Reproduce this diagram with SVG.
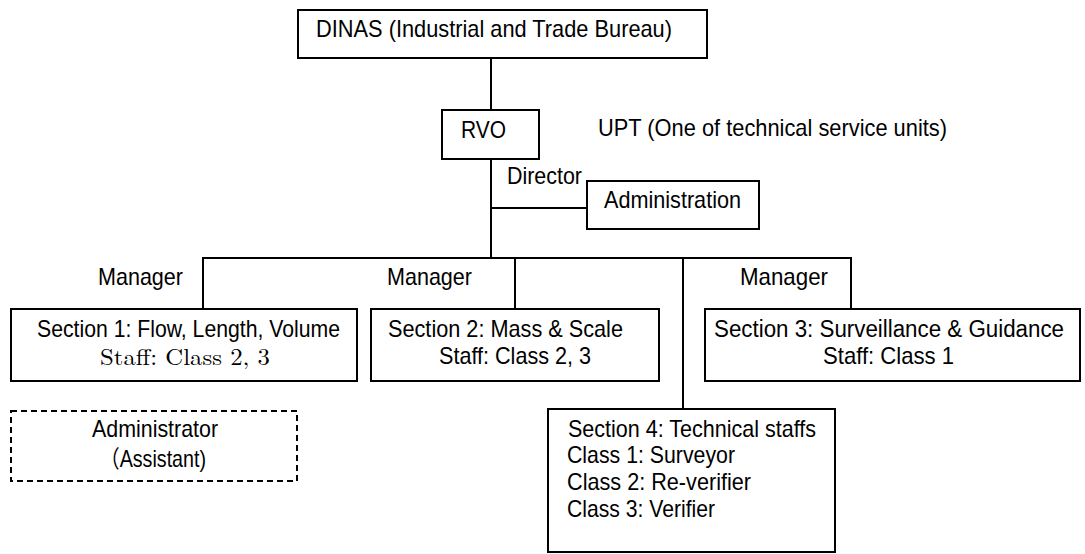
<svg xmlns="http://www.w3.org/2000/svg" width="1085" height="554" viewBox="0 0 1085 554">
<style>
.box{fill:#fff;stroke:#000;stroke-width:2}
.dash{fill:#fff;stroke:#000;stroke-width:2;stroke-dasharray:6 4}
.ln{stroke:#000;stroke-width:2;fill:none}
text{font-family:"Liberation Sans Narrow","Liberation Sans",Arial,sans-serif;font-size:24px;fill:#000}
.serif{font-family:"Latin Modern Roman","Liberation Serif","DejaVu Serif",serif;font-size:23px}
</style>
<rect width="1085" height="554" fill="#fff"/>
<g id="connectors">
<line class="ln" x1="491" y1="58" x2="491" y2="110"/>
<line class="ln" x1="491" y1="159" x2="491" y2="258"/>
<line class="ln" x1="491" y1="208" x2="587" y2="208"/>
<polyline class="ln" points="203,309 203,258 851,258 851,309"/>
<line class="ln" x1="515" y1="258" x2="515" y2="309"/>
<line class="ln" x1="683" y1="258" x2="683" y2="409"/>
</g>
<g id="dinas">
<rect class="box" x="298" y="10" width="409" height="48"/>
<text x="316" y="37" textLength="356" lengthAdjust="spacingAndGlyphs">DINAS (Industrial and Trade Bureau)</text>
</g>
<g id="rvo">
<rect class="box" x="442" y="110" width="97" height="49"/>
<text x="461" y="138" textLength="45" lengthAdjust="spacingAndGlyphs">RVO</text>
</g>
<g id="upt">
<text x="598" y="136" textLength="349" lengthAdjust="spacingAndGlyphs">UPT (One of technical service units)</text>
</g>
<g id="director">
<text x="507" y="184" textLength="75" lengthAdjust="spacingAndGlyphs">Director</text>
</g>
<g id="administration">
<rect class="box" x="587" y="181" width="172" height="48"/>
<text x="604" y="208" textLength="137" lengthAdjust="spacingAndGlyphs">Administration</text>
</g>
<g id="managers">
<text x="98" y="285" textLength="85" lengthAdjust="spacingAndGlyphs">Manager</text>
<text x="387" y="285" textLength="85" lengthAdjust="spacingAndGlyphs">Manager</text>
<text x="740" y="285" textLength="88" lengthAdjust="spacingAndGlyphs">Manager</text>
</g>
<g id="section1">
<rect class="box" x="11" y="309" width="346" height="72"/>
<text x="37" y="337" textLength="303" lengthAdjust="spacingAndGlyphs">Section 1: Flow, Length, Volume</text>
<text class="serif" x="100" y="365" textLength="170" lengthAdjust="spacingAndGlyphs">Staff: Class 2, 3</text>
</g>
<g id="section2">
<rect class="box" x="371" y="309" width="288" height="72"/>
<text x="388" y="337" textLength="235" lengthAdjust="spacingAndGlyphs">Section 2: Mass &amp; Scale</text>
<text x="439" y="364" textLength="152" lengthAdjust="spacingAndGlyphs">Staff: Class 2, 3</text>
</g>
<g id="section3">
<rect class="box" x="705" y="309" width="375" height="72"/>
<text x="714" y="337" textLength="350" lengthAdjust="spacingAndGlyphs" style="font-size:23px">Section 3: Surveillance &amp; Guidance</text>
<text x="823" y="364" textLength="131" lengthAdjust="spacingAndGlyphs">Staff: Class 1</text>
</g>
<g id="section4">
<rect class="box" x="548" y="409" width="287" height="143"/>
<text x="568" y="437" textLength="248" lengthAdjust="spacingAndGlyphs">Section 4: Technical staffs</text>
<text x="567" y="463" textLength="168" lengthAdjust="spacingAndGlyphs">Class 1: Surveyor</text>
<text x="567" y="490" textLength="184" lengthAdjust="spacingAndGlyphs">Class 2: Re-verifier</text>
<text x="567" y="517" textLength="148" lengthAdjust="spacingAndGlyphs">Class 3: Verifier</text>
</g>
<g id="administrator">
<rect class="dash" x="11" y="411" width="286" height="70"/>
<text x="92" y="437" textLength="126" lengthAdjust="spacingAndGlyphs">Administrator</text>
<text x="100" y="467" textLength="106" lengthAdjust="spacingAndGlyphs" style="font-family:'Liberation Sans','Noto Sans CJK JP',sans-serif">（Assistant)</text>
</g>
</svg>
